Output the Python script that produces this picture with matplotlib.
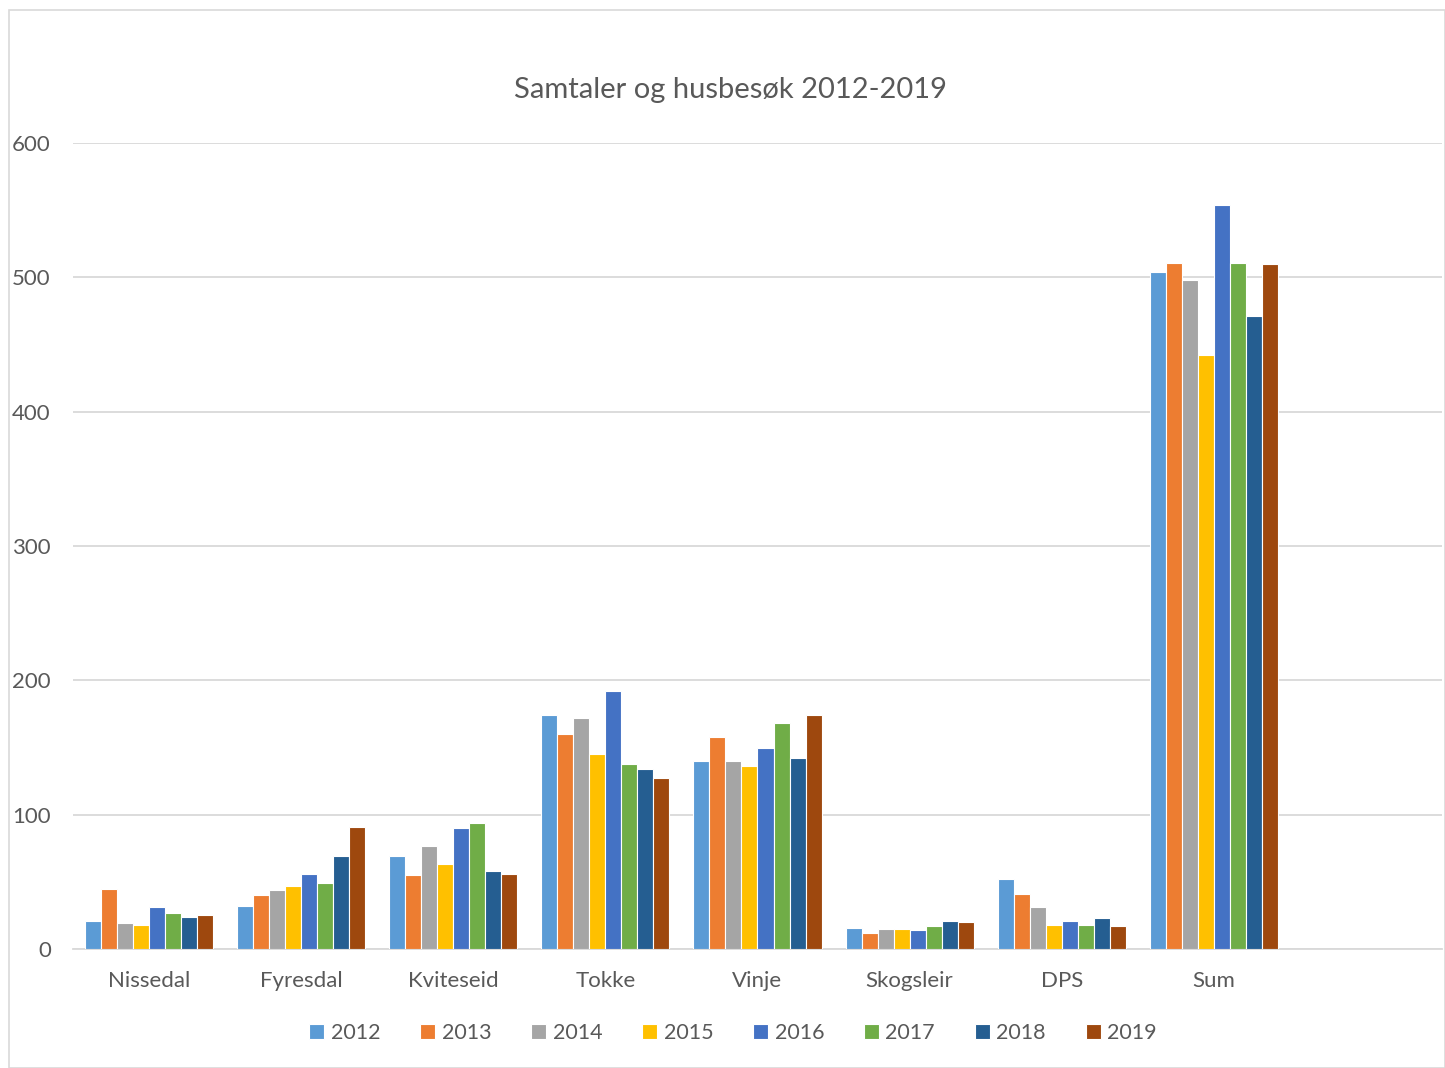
import matplotlib
matplotlib.use("Agg")
import matplotlib.pyplot as plt
from matplotlib.patches import Rectangle
import numpy as np

categories = ["Nissedal", "Fyresdal", "Kviteseid", "Tokke", "Vinje", "Skogsleir", "DPS", "Sum"]
years = ["2012", "2013", "2014", "2015", "2016", "2017", "2018", "2019"]

v2012 = [21, 32, 69, 174, 140, 16, 52, 504]
v2013 = [45, 40, 55, 160, 158, 12, 41, 511]
v2014 = [19, 44, 77, 172, 140, 15, 31, 498]
v2015 = [18, 47, 63, 145, 136, 15, 18, 442]
v2016 = [31, 56, 90, 192, 150, 14, 21, 554]
v2017 = [27, 49, 94, 138, 168, 17, 18, 511]
v2018 = [24, 69, 58, 134, 142, 21, 23, 471]
v2019 = [25, 91, 56, 127, 174, 20, 17, 510]
series = [v2012, v2013, v2014, v2015, v2016, v2017, v2018, v2019]

colors = ["#5B9BD5", "#ED7D31", "#A5A5A5", "#FFC000", "#4472C4", "#70AD47", "#255E91", "#9E480E"]
text_color = "#595959"
grid_color = "#D9D9D9"

plt.rcParams['font.family'] = ['Lato', 'DejaVu Sans']

W, H = 1445, 1068
fig = plt.figure(figsize=(W / 100, H / 100), dpi=100)
fig.patches.append(Rectangle((9 / W, 0), 1 - 9 / W, 1 - 10 / H, transform=fig.transFigure,
                             fill=False, edgecolor=grid_color, linewidth=1.2))

ax = fig.add_axes([73 / W, (H - 949) / H, (1442 - 73) / W, (949 - 143) / H])

x = np.arange(len(categories))
n = len(series)
bw = 16 / 152
for i, (vals, c, yr) in enumerate(zip(series, colors, years)):
    offs = (i - (n - 1) / 2) * bw
    ax.bar(x + offs, vals, width=bw, color=c, edgecolor="white", linewidth=0.8, label=yr, zorder=3)

ax.set_xlim(-0.5, 8.5)
ax.set_ylim(0, 600)
ax.set_yticks(range(0, 601, 100))
ax.set_xticks(x)
ax.set_xticklabels(categories)
ax.tick_params(axis='both', length=0, labelsize=16, colors=text_color)
ax.tick_params(axis='y', pad=16)
ax.tick_params(axis='x', pad=16)
ax.grid(axis='y', color=grid_color, linewidth=1.3, zorder=0)
for s in ["top", "right", "left"]:
    ax.spines[s].set_visible(False)
ax.spines["bottom"].set_color(grid_color)
ax.spines["bottom"].set_linewidth(1.3)

fig.text(731 / W, 1 - 90 / H, "Samtaler og husbesøk 2012-2019", ha="center", va="center",
         fontsize=21, color=text_color)

handles, labels = ax.get_legend_handles_labels()
leg = fig.legend(handles, labels, loc="center", ncol=8, frameon=False,
                 bbox_to_anchor=(733 / W, 1 - 1033 / H), fontsize=15.5,
                 handlelength=0.7, handleheight=0.7, handletextpad=0.3, columnspacing=1.85)
for t in leg.get_texts():
    t.set_color(text_color)

fig.savefig("out.png", dpi=100)
